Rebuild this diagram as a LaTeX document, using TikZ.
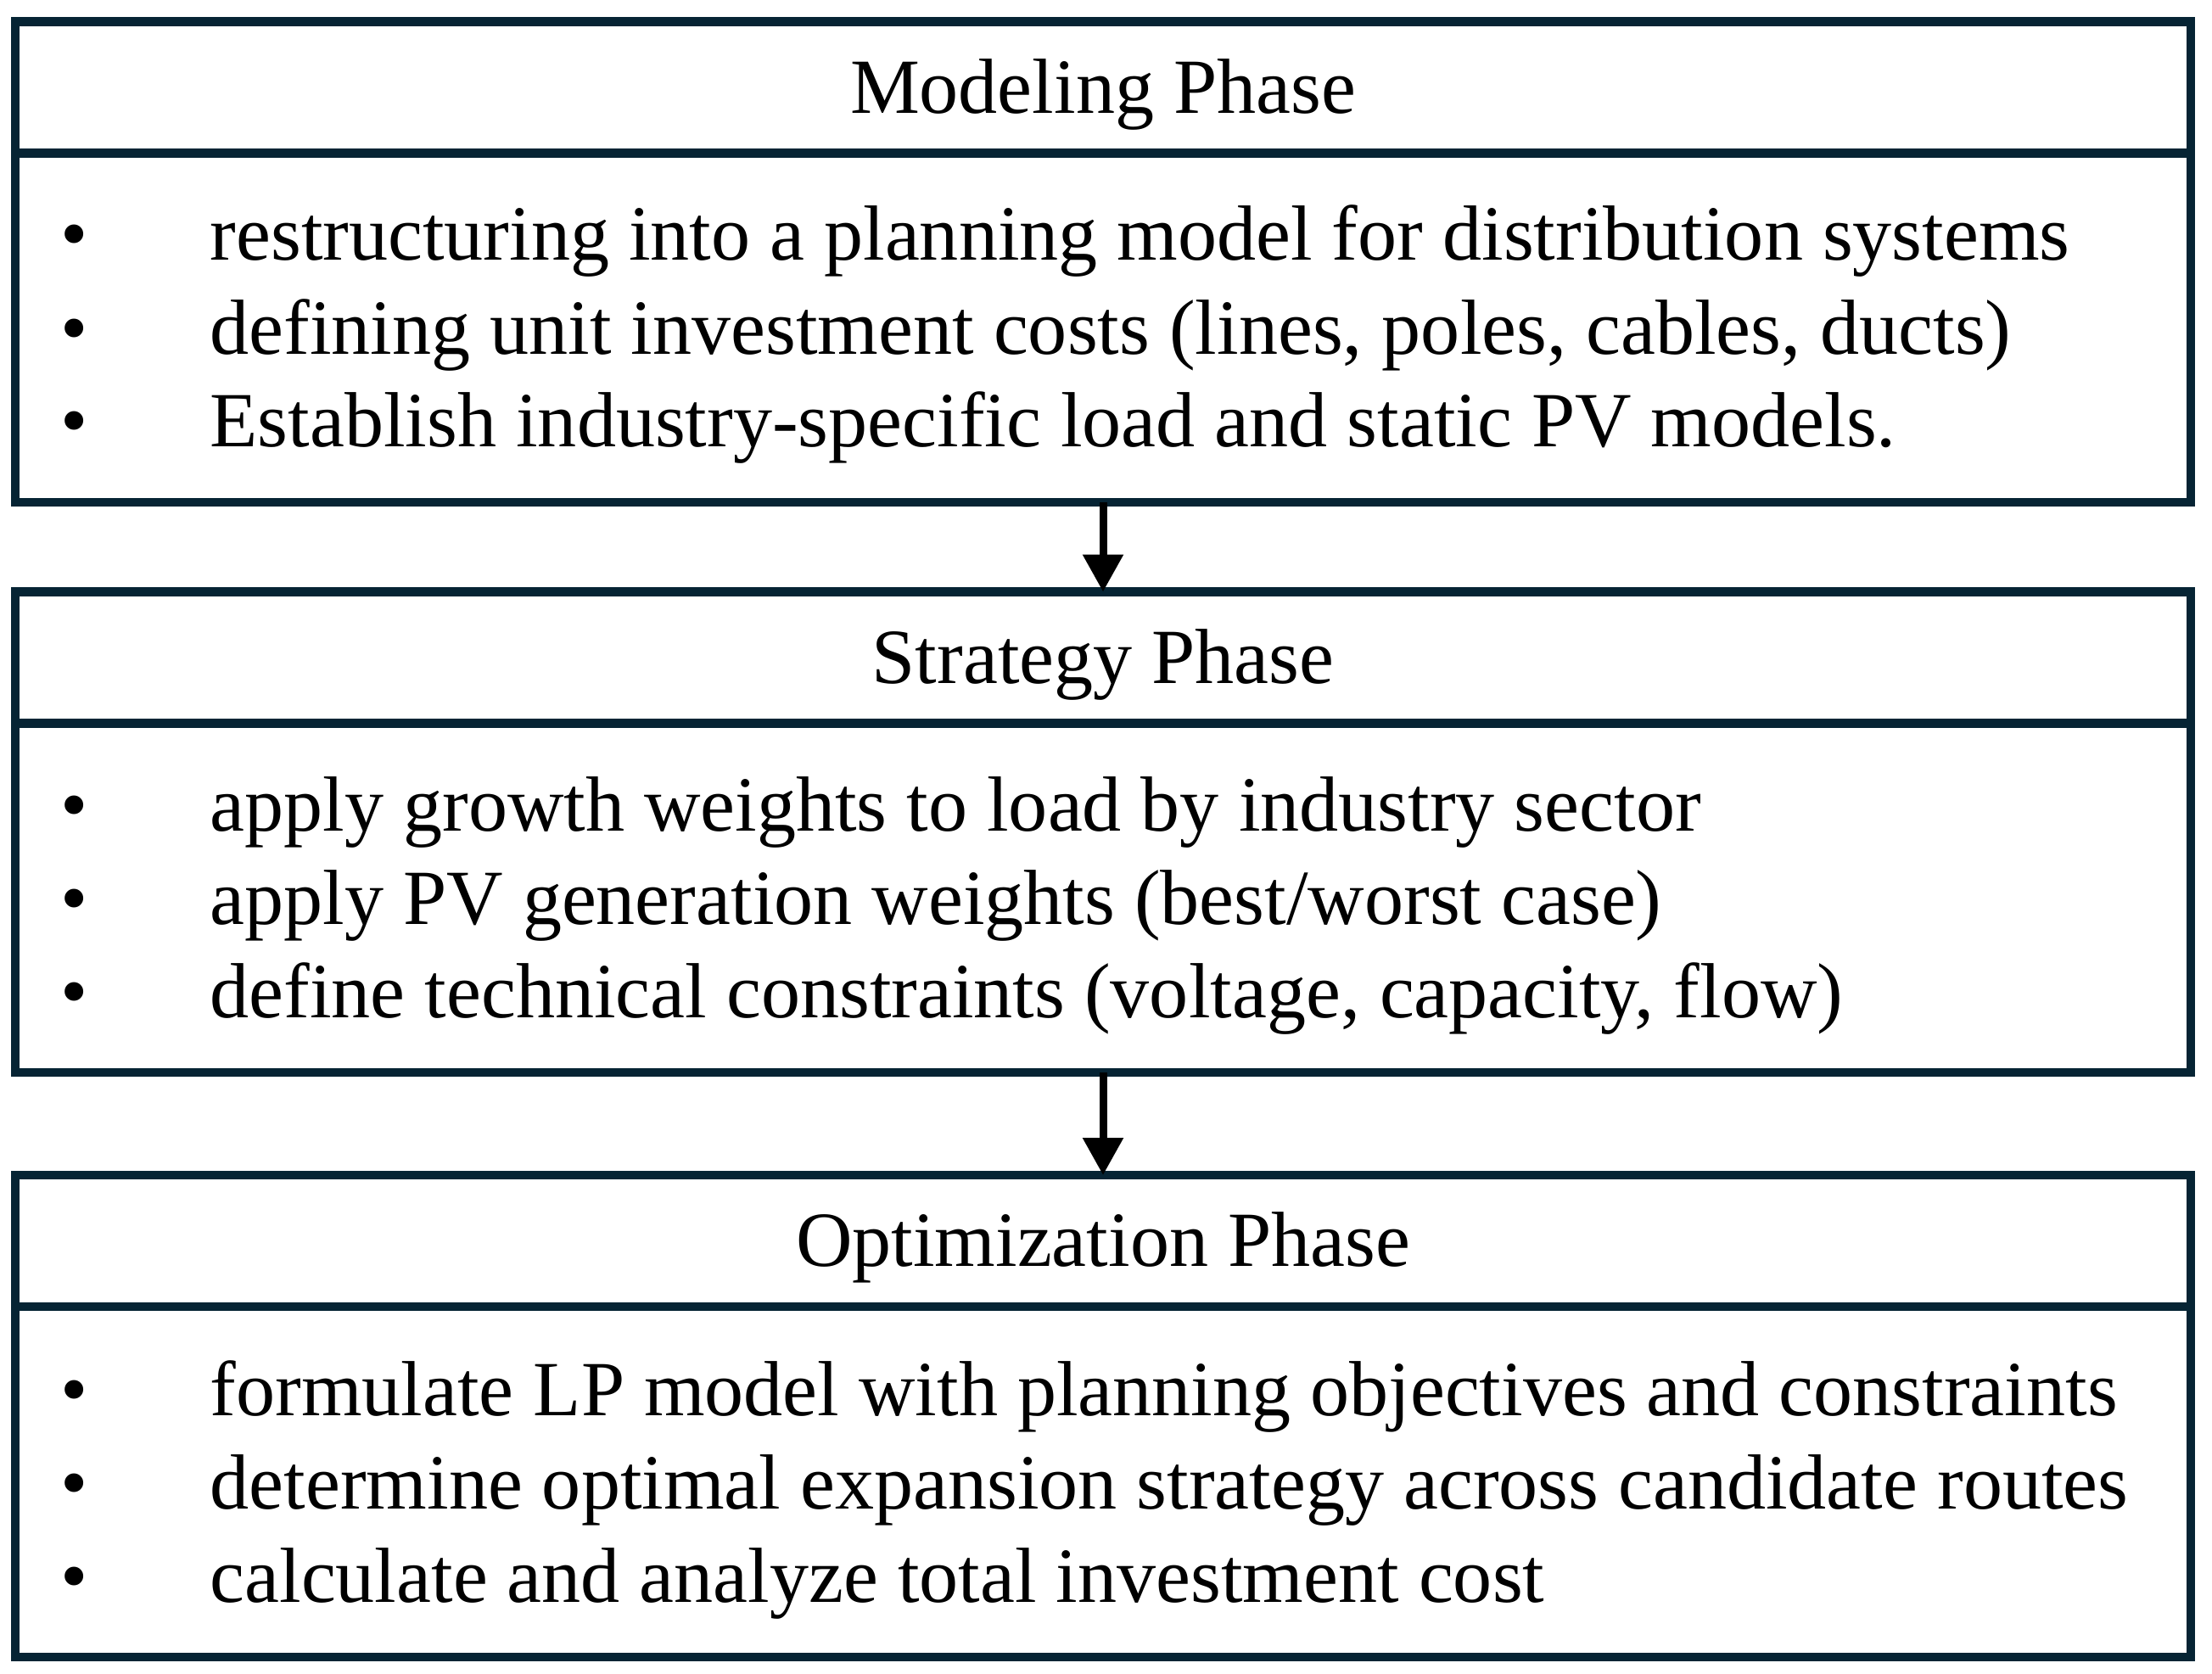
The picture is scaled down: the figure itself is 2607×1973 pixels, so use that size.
\documentclass[tikz,border=0pt]{standalone}
\usepackage{fontspec}
\setmainfont{Liberation Serif}
\usetikzlibrary{arrows.meta}
\definecolor{boxcol}{RGB}{6,36,52}
\tikzset{
  frame/.style={draw=boxcol, line width=1.05mm, inner sep=0pt, outer sep=0pt, minimum width=256.4mm},
  header/.style={frame, minimum height=15.5mm, font=\fontsize{26.2}{31}\selectfont, text height=17.2pt, text depth=0pt},
  itemtext/.style={anchor=base west, inner sep=0pt, font=\fontsize{26.2}{31}\selectfont},
  bul/.style={anchor=base, inner sep=0pt, font=\fontsize{26.2}{31}\selectfont},
  flow/.style={draw=black, line width=0.9mm, -{Triangle[length=4.4mm, width=4.6mm]}}
}
\begin{document}
\begin{tikzpicture}[x=0.1mm, y=-0.1mm]
\useasboundingbox (0,0) rectangle (2607,1973);
\fill[white] (0,0) rectangle (2607,1973);

% Modeling phase
\node[frame, anchor=north, minimum height=41.15mm] (b1) at (1300,180.5) {};
\node[header] (h1) at (1300,103) {Modeling Phase};
\node[bul] (p11) at (88,307) {•};
\node[bul] (p12) at (88,417) {•};
\node[bul] (p13) at (88,527) {•};
\node[itemtext] (t11) at (247,307) {restructuring into a planning model for distribution systems};
\node[itemtext] (t12) at (247,417) {defining unit investment costs (lines, poles, cables, ducts)};
\node[itemtext] (t13) at (247,527) {Establish industry-specific load and static PV models.};

% Strategy phase
\node[frame, anchor=north, minimum height=41.2mm] (b2) at (1300,852) {};
\node[header] (h2) at (1300,775) {Strategy Phase};
\node[bul] (p21) at (88,979) {•};
\node[bul] (p22) at (88,1089) {•};
\node[bul] (p23) at (88,1199) {•};
\node[itemtext] (t21) at (247,979) {apply growth weights to load by industry sector};
\node[itemtext] (t22) at (247,1089) {apply PV generation weights (best/worst case)};
\node[itemtext] (t23) at (247,1199) {define technical constraints (voltage, capacity, flow)};

% Optimization phase
\node[frame, anchor=north, minimum height=41.3mm] (b3) at (1300,1540) {};
\node[header] (h3) at (1300,1462.5) {Optimization Phase};
\node[bul] (p31) at (88,1668) {•};
\node[bul] (p32) at (88,1778) {•};
\node[bul] (p33) at (88,1888) {•};
\node[itemtext] (t31) at (247,1668) {formulate LP model with planning objectives and constraints};
\node[itemtext] (t32) at (247,1778) {determine optimal expansion strategy across candidate routes};
\node[itemtext] (t33) at (247,1888) {calculate and analyze total investment cost};

% connectors
\draw[flow] (b1.south) -- (h2.north);
\draw[flow] (b2.south) -- (h3.north);
\end{tikzpicture}
\end{document}
